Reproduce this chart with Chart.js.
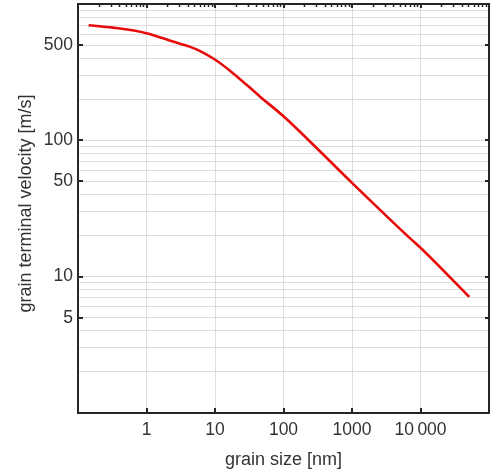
<!DOCTYPE html>
<html>
<head>
<meta charset="utf-8">
<script src="https://cdn.jsdelivr.net/npm/chart.js@4/dist/chart.umd.min.js"></script>
<style>
  html, body { margin: 0; padding: 0; background: #fff; }
  canvas { display: block; }
</style>
</head>
<body>
<canvas id="c" width="491" height="475"></canvas>
<script>
// ---- data ----
const grainSizes = [0.143, 0.321, 1, 2.43, 4.26, 5.97, 10.1, 18.3, 45.1, 100, 340, 1000, 7060, 10000, 51600]; // nm
const velocities = [699, 671, 611, 530, 487, 453, 390, 311, 210, 150, 83.1, 48.8, 19.1, 16.3, 7.1];          // m/s
const xTickValues = [0.1, 1, 10, 100, 1000, 10000, 100000];
const xTickLabels = ['', '1', '10', '100', '1000', '10\u2009000', ''];
const yLabelValues = [5, 10, 50, 100, 500];
const yLabelTexts = ['5', '10', '50', '100', '500'];
const xTitle = 'grain size [nm]';
const yTitle = 'grain terminal velocity [m/s]';

const FONT = "'Liberation Sans', Arial, sans-serif";
const TEXT = '#333333';
const GRID = '#dedede';
const FRAME = '#262626';

function yGridValues() {
  const out = [];
  for (let dec = 1; dec < 1000; dec *= 10) {
    for (let m = 1; m <= 9; m++) out.push(m * dec);
  }
  out.push(1000);
  return out;
}
function xMinorValues() {
  const out = [];
  for (let dec = 0.1; dec < 100000; dec *= 10) {
    for (let m = 2; m <= 9; m++) out.push(m * dec);
  }
  return out;
}

const framePlugin = {
  id: 'frame',
  afterDraw(chart) {
    const {ctx, chartArea: a, scales: {x, y}} = chart;
    ctx.save();
    ctx.strokeStyle = FRAME;
    ctx.lineWidth = 2;
    ctx.strokeRect(a.left, a.top, a.right - a.left, a.bottom - a.top);
    ctx.beginPath();
    xTickValues.slice(1, -1).forEach(v => {
      const px = Math.round(x.getPixelForValue(v));
      ctx.moveTo(px, a.bottom); ctx.lineTo(px, a.bottom - 5);
      ctx.moveTo(px, a.top); ctx.lineTo(px, a.top + 4);
    });
    yLabelValues.forEach(v => {
      const py = Math.round(y.getPixelForValue(v));
      ctx.moveTo(a.left, py); ctx.lineTo(a.left + 5, py);
      ctx.moveTo(a.right, py); ctx.lineTo(a.right - 4, py);
    });
    ctx.stroke();
    ctx.lineWidth = 1.5;
    ctx.beginPath();
    xMinorValues().forEach(v => {
      const px = Math.round(x.getPixelForValue(v)) + 0.5;
      ctx.moveTo(px, a.top); ctx.lineTo(px, a.top + 3);
    });
    ctx.stroke();
    // y-axis title
    ctx.fillStyle = TEXT;
    ctx.font = "18px " + FONT;
    ctx.textAlign = 'center';
    ctx.textBaseline = 'middle';
    ctx.translate(26, (a.top + a.bottom) / 2 - 5);
    ctx.rotate(-Math.PI / 2);
    ctx.fillText(yTitle, 0, 0);
    ctx.restore();
  }
};

const points = grainSizes.map((s, i) => ({x: s, y: velocities[i]}));

new Chart(document.getElementById('c'), {
  type: 'line',
  data: {
    datasets: [{
      data: points,
      borderColor: '#e60a0a',
      borderWidth: 2.6,
      pointRadius: 0,
      fill: false,
      cubicInterpolationMode: 'monotone'
    }]
  },
  options: {
    responsive: false,
    animation: false,
    devicePixelRatio: 1,
    layout: { padding: { left: 0, right: 2, top: 4, bottom: 0 } },
    plugins: { legend: { display: false }, tooltip: { enabled: false } },
    scales: {
      x: {
        type: 'logarithmic',
        min: 0.1, max: 100000,
        afterBuildTicks(scale) { scale.ticks = xTickValues.map(v => ({value: v})); },
        afterFit(scale) { scale.height = 62; scale.paddingLeft = 0; scale.paddingRight = 0; },
        grid: { color: GRID, lineWidth: 1, drawTicks: false },
        border: { display: false },
        ticks: {
          autoSkip: false, maxRotation: 0, padding: 7,
          color: TEXT, font: { family: FONT, size: 17.5 },
          callback(v) { const i = xTickValues.indexOf(v); return i >= 0 ? xTickLabels[i] : ''; }
        },
        title: {
          display: true, text: xTitle, color: TEXT,
          font: { family: FONT, size: 18 },
          padding: { top: 0, bottom: 4 }
        }
      },
      y: {
        type: 'logarithmic',
        min: 1, max: 1000,
        afterBuildTicks(scale) { scale.ticks = yGridValues().map(v => ({value: v})); },
        afterFit(scale) { scale.width = 78; scale.paddingTop = 0; scale.paddingBottom = 0; },
        grid: { color: GRID, lineWidth: 1, drawTicks: false },
        border: { display: false },
        ticks: {
          autoSkip: false, padding: 5,
          color: TEXT, font: { family: FONT, size: 17.5 },
          callback(v) { const i = yLabelValues.indexOf(v); return i >= 0 ? yLabelTexts[i] : ''; }
        },
        title: { display: false }
      }
    }
  },
  plugins: [framePlugin]
});
</script>
</body>
</html>
